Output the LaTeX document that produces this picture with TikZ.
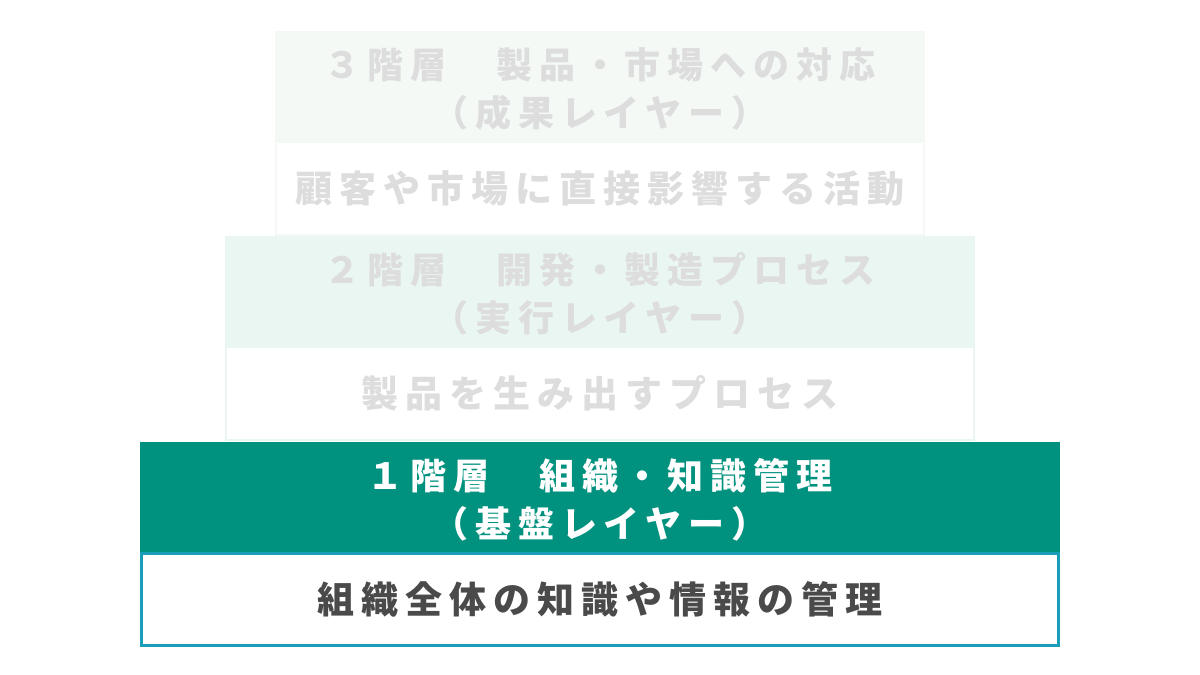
\documentclass[tikz,border=0pt]{standalone}
\usepackage{fontspec}
\newfontfamily\jpfont[LetterSpace=19]{Noto Sans CJK JP}
\usepackage{xcolor}
\usetikzlibrary{positioning}
\definecolor{faintgreen}{HTML}{F4F9F6}
\definecolor{palegreen}{HTML}{EAF6F1}
\definecolor{teal}{HTML}{00927E}
\definecolor{tealline}{HTML}{1A9DB6}
\definecolor{fadetext}{HTML}{DDDDDD}
\definecolor{darktext}{HTML}{4A4A4A}
\tikzset{
  head/.style={draw=none,minimum height=110pt,inner sep=0pt,align=center,
    font=\jpfont\bfseries\fontsize{36}{48}\selectfont},
  body/.style={minimum height=93pt,inner sep=0pt,align=center,
    font=\jpfont\bfseries\fontsize{37}{42}\selectfont}
}

\begin{document}
\begin{tikzpicture}[x=1pt,y=-1pt]
    \useasboundingbox[fill=white] (0,0) rectangle (1200,675);
    % 3rd layer
    \node [head, fill=faintgreen, text=fadetext, minimum width=650pt](H3) at (600, 86) {};
    \node [head, fill=none, text=fadetext] (T3) at (600, 89) {３階層　製品・市場への対応\\（成果レイヤー）};
    \node [body, draw=faintgreen, line width=2pt, fill=white, text=fadetext, minimum width=648pt, below=0pt of H3](B3) {顧客や市場に直接影響する活動};
    % 2nd layer
    \node [head, fill=palegreen, text=fadetext, minimum width=750pt](H2) at (600, 291) {};
    \node [head, fill=none, text=fadetext] (T2) at (600, 294) {２階層　開発・製造プロセス\\（実行レイヤー）};
    \node [body, draw=palegreen, line width=2pt, fill=white, text=fadetext, minimum width=748pt, below=0pt of H2](B2) {製品を生み出すプロセス};
    % 1st layer
    \node [head, fill=teal, text=white, minimum width=920pt](H1) at (600, 497) {};
    \node [head, fill=none, text=white] (T1) at (600, 500) {１階層　組織・知識管理\\（基盤レイヤー）};
    \node [body, draw=tealline, line width=3pt, fill=white, text=darktext, minimum width=917pt, minimum height=92pt, below=0pt of H1](B1) {組織全体の知識や情報の管理};
\end{tikzpicture}
\end{document}
